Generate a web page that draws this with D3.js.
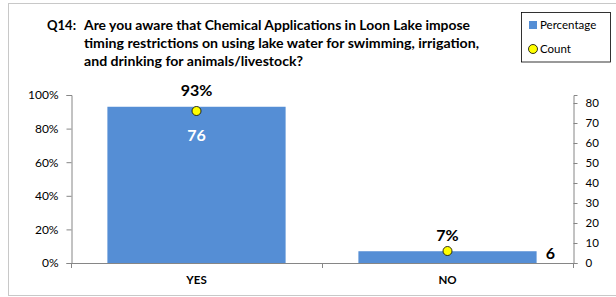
<!DOCTYPE html>
<html><head><meta charset="utf-8">
<script src="https://cdn.jsdelivr.net/npm/d3@7"></script>
<style>body{margin:0;background:#fff}svg{display:block}text{font-family:Lato,"Open Sans",sans-serif}</style>
</head><body>
<script>
const categories = ["YES", "NO"];
const percentages = [0.93, 0.07];
const counts = [76, 6];
const pctLabels = ["93%", "7%"];
const leftTicks = [0, 0.2, 0.4, 0.6, 0.8, 1.0];
const rightTicks = [0, 10, 20, 30, 40, 50, 60, 70, 80];
const titlePrefix = "Q14:";
const titleLines = [
  "Are you aware that Chemical Applications in Loon Lake impose",
  "timing restrictions on using lake water for swimming, irrigation,",
  "and drinking for animals/livestock?"
];
const legendItems = ["Percentage", "Count"];

const W = 616, H = 297;
const svg = d3.select("body").append("svg").attr("width", W).attr("height", H);

// outer frame
svg.append("rect").attr("x", 8.5).attr("y", 3.5).attr("width", 620).attr("height", 292)
  .attr("fill", "none").attr("stroke", "#c8c8c8").attr("stroke-width", 1);

const x0 = 71, x1 = 573, yTop = 95, yBase = 263;
const x = d3.scaleBand().domain(categories).range([x0, x1]).paddingInner(0.29).paddingOuter(0.145);
const yL = d3.scaleLinear().domain([0, 1]).range([yBase, yTop]);
const yR = d3.scaleLinear().domain([0, 84]).range([yBase, yTop]);

// bars
svg.selectAll("rect.bar").data(categories).enter().append("rect")
  .attr("class", "bar")
  .attr("x", d => x(d)).attr("width", x.bandwidth())
  .attr("y", (d, i) => yL(percentages[i]))
  .attr("height", (d, i) => yBase - yL(percentages[i]))
  .attr("fill", "#558ed5");

// left axis
const axL = svg.append("g").attr("transform", `translate(${x0 + 0.5},0)`)
  .call(d3.axisLeft(yL).tickValues(leftTicks).tickFormat(d3.format(".0%")).tickSizeOuter(0).tickSize(5).tickPadding(8));
axL.select(".domain").attr("stroke", "#868686");
axL.selectAll(".tick line").attr("stroke", "#868686");
axL.selectAll(".tick text").attr("font-size", 12).attr("fill", "#000").attr("font-family", "Lato,sans-serif");

// right axis
const axR = svg.append("g").attr("transform", `translate(${x1 + 0.5},0)`)
  .call(d3.axisRight(yR).tickValues(rightTicks).tickSizeOuter(0).tickSize(4).tickPadding(8));
axR.select(".domain").attr("stroke", "#868686");
axR.selectAll(".tick line").attr("stroke", "#868686");
axR.selectAll(".tick text").attr("font-size", 11.5).attr("fill", "#000").attr("font-family", "Lato,sans-serif");

// bottom axis
const g = svg.append("g");
g.append("line").attr("x1", x0).attr("x2", x1).attr("y1", yBase + 0.5).attr("y2", yBase + 0.5).attr("stroke", "#868686");
const bounds = [x0, (x0 + x1) / 2, x1];
g.selectAll("line.bt").data(bounds).enter().append("line").attr("class", "bt")
  .attr("x1", d => Math.round(d) + 0.5).attr("x2", d => Math.round(d) + 0.5)
  .attr("y1", yBase).attr("y2", yBase + 5).attr("stroke", "#868686");
g.selectAll("text.cat").data(categories).enter().append("text").attr("class", "cat")
  .attr("x", d => x(d) + x.bandwidth() / 2).attr("y", 280).attr("dy", "0.35em")
  .attr("text-anchor", "middle").attr("font-size", 11.5).attr("font-weight", "bold").text(d => d);

// percentage labels
svg.selectAll("text.pl").data(categories).enter().append("text").attr("class", "pl")
  .attr("x", d => x(d) + x.bandwidth() / 2)
  .attr("y", (d, i) => yL(percentages[i]) - 16).attr("dy", "0.35em")
  .attr("text-anchor", "middle").attr("font-size", 16).attr("font-weight", "bold").text((d, i) => pctLabels[i]);

// count dots
svg.selectAll("circle.cd").data(categories).enter().append("circle").attr("class", "cd")
  .attr("cx", d => x(d) + x.bandwidth() / 2)
  .attr("cy", (d, i) => yR(counts[i]))
  .attr("r", 4.5).attr("fill", "#ffff00").attr("stroke", "#000").attr("stroke-width", 0.8);

// count labels
svg.append("text").attr("x", x(categories[0]) + x.bandwidth() / 2).attr("y", yR(counts[0]) + 24).attr("dy", "0.35em")
  .attr("text-anchor", "middle").attr("font-size", 16).attr("font-weight", "bold").attr("fill", "#fff").text(counts[0]);
svg.append("text").attr("x", x(categories[1]) + x.bandwidth() / 2 + 103).attr("y", yR(counts[1]) + 2).attr("dy", "0.35em")
  .attr("text-anchor", "middle").attr("font-size", 16).attr("font-weight", "bold").attr("fill", "#000").text(counts[1]);

// title
svg.append("text").attr("x", 47).attr("y", 25).attr("dy", "0.35em")
  .attr("font-size", 13.3).attr("font-weight", "bold")
  .attr("textLength", 29).attr("lengthAdjust", "spacingAndGlyphs").text(titlePrefix);
const tX = [84, 84, 84], tEnd = [470, 479, 303], tY = [25, 43, 61];
titleLines.forEach((t, i) => {
  svg.append("text").attr("x", tX[i]).attr("y", tY[i]).attr("dy", "0.35em")
    .attr("font-size", 13.3).attr("font-weight", "bold")
    .attr("textLength", tEnd[i] - tX[i]).attr("lengthAdjust", "spacingAndGlyphs").text(t);
});

// legend
svg.append("rect").attr("x", 521.5).attr("y", 12.5).attr("width", 89).attr("height", 49.5)
  .attr("fill", "#fff").attr("stroke", "#000").attr("stroke-width", 0.8);
svg.append("rect").attr("x", 529).attr("y", 21).attr("width", 8).attr("height", 8).attr("fill", "#558ed5");
svg.append("circle").attr("cx", 533).attr("cy", 49).attr("r", 4.5).attr("fill", "#ffff00").attr("stroke", "#000").attr("stroke-width", 0.8);
svg.selectAll("text.lg").data(legendItems).enter().append("text").attr("class", "lg")
  .attr("x", 540).attr("y", (d, i) => 25 + i * 24).attr("dy", "0.35em")
  .attr("font-size", 11.5).text(d => d);
</script>
</body></html>
